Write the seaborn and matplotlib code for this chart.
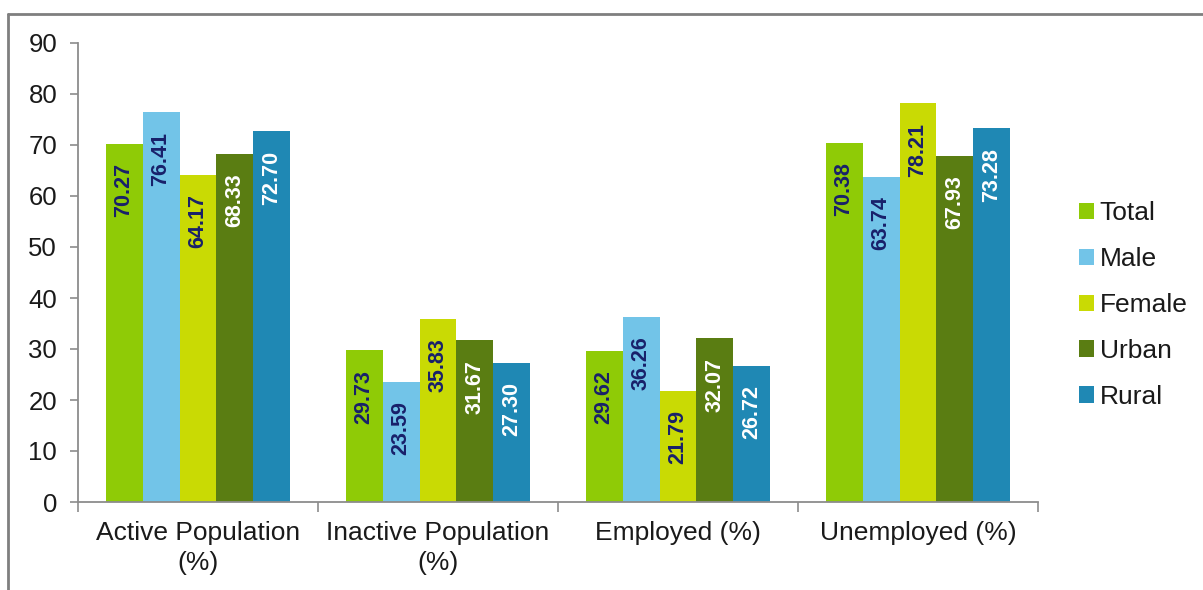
import matplotlib
matplotlib.use("Agg")
import matplotlib.pyplot as plt
from matplotlib.lines import Line2D
import pandas as pd
import seaborn as sns

categories = ["Active Population\n(%)", "Inactive Population\n(%)", "Employed (%)", "Unemployed (%)"]
groups = ["Total", "Male", "Female", "Urban", "Rural"]
total = [70.27, 29.73, 29.62, 70.38]
male = [76.41, 23.59, 36.26, 63.74]
female = [64.17, 35.83, 21.79, 78.21]
urban = [68.33, 31.67, 32.07, 67.93]
rural = [72.70, 27.30, 26.72, 73.28]

series = dict(zip(groups, [total, male, female, urban, rural]))
colors = ["#8fcb06", "#72c4e8", "#c9da04", "#5a7d12", "#1f88b4"]
label_colors = ["#18206a", "#18206a", "#18206a", "#ffffff", "#ffffff"]

rows = [(cat, g, series[g][i]) for g in groups for i, cat in enumerate(categories)]
df = pd.DataFrame(rows, columns=["category", "group", "value"])

sns.set_theme(style="white")
plt.rcParams["font.family"] = ["Liberation Sans", "DejaVu Sans"]

W, H = 1203, 590
fig = plt.figure(figsize=(W / 100, H / 100), dpi=100)
ax = fig.add_axes([78 / W, 1 - 502 / H, (1038 - 78) / W, (502 - 43) / H])

sns.barplot(data=df, x="category", y="value", hue="group", order=categories,
            hue_order=groups, palette=colors, saturation=1, width=0.77, gap=0,
            ax=ax, legend=True, linewidth=0)

# value labels, rotated, inside the top of each bar
for container, tc in zip(ax.containers, label_colors):
    for patch in container:
        v = patch.get_height()
        xc = patch.get_x() + patch.get_width() / 2
        ax.annotate(f"{v:.2f}", xy=(xc, v), xytext=(0, -14), textcoords="offset points",
                    rotation=90, ha="center", va="top", fontsize=15.5,
                    fontweight="bold", color=tc)

ax.set_ylim(0, 90)
ax.set_yticks(range(0, 91, 10))
ax.set_xlim(-0.5, len(categories) - 0.5)
ax.set_xlabel("")
ax.set_ylabel("")

axis_col = "#8c8c8c"
for side in ["top", "right"]:
    ax.spines[side].set_visible(False)
for side in ["left", "bottom"]:
    ax.spines[side].set_color(axis_col)
    ax.spines[side].set_linewidth(1.3)

ax.tick_params(axis="y", direction="out", length=6, width=1.2, color=axis_col,
               labelsize=18.5, labelcolor="#1a1a1a", pad=9, left=True)
ax.tick_params(axis="x", which="major", length=0, labelsize=19, labelcolor="#1a1a1a", pad=14)
for lbl in ax.get_xticklabels():
    lbl.set_linespacing(1.3)
ax.set_xticks([i + 0.5 for i in range(-1, len(categories))], minor=True)
ax.tick_params(axis="x", which="minor", direction="out", length=7, width=1.2,
               color=axis_col, bottom=True)

leg = ax.legend(loc="center left", bbox_to_anchor=(1079 / W, 1 - 305 / H),
                bbox_transform=fig.transFigure, frameon=False, fontsize=19,
                handlelength=0.57, handleheight=0.57, handletextpad=0.22,
                labelspacing=0.83, borderpad=0, borderaxespad=0)
for t in leg.get_texts():
    t.set_color("#1a1a1a")

# chart frame
frame_col = "#7f7f7f"
fig.add_artist(Line2D([8 / W, 1.0], [1 - 14 / H, 1 - 14 / H], color=frame_col, lw=2,
                      transform=fig.transFigure))
fig.add_artist(Line2D([8 / W, 8 / W], [0.0, 1 - 14 / H], color=frame_col, lw=2,
                      transform=fig.transFigure))

fig.savefig("out.png", dpi=100, facecolor="white")
